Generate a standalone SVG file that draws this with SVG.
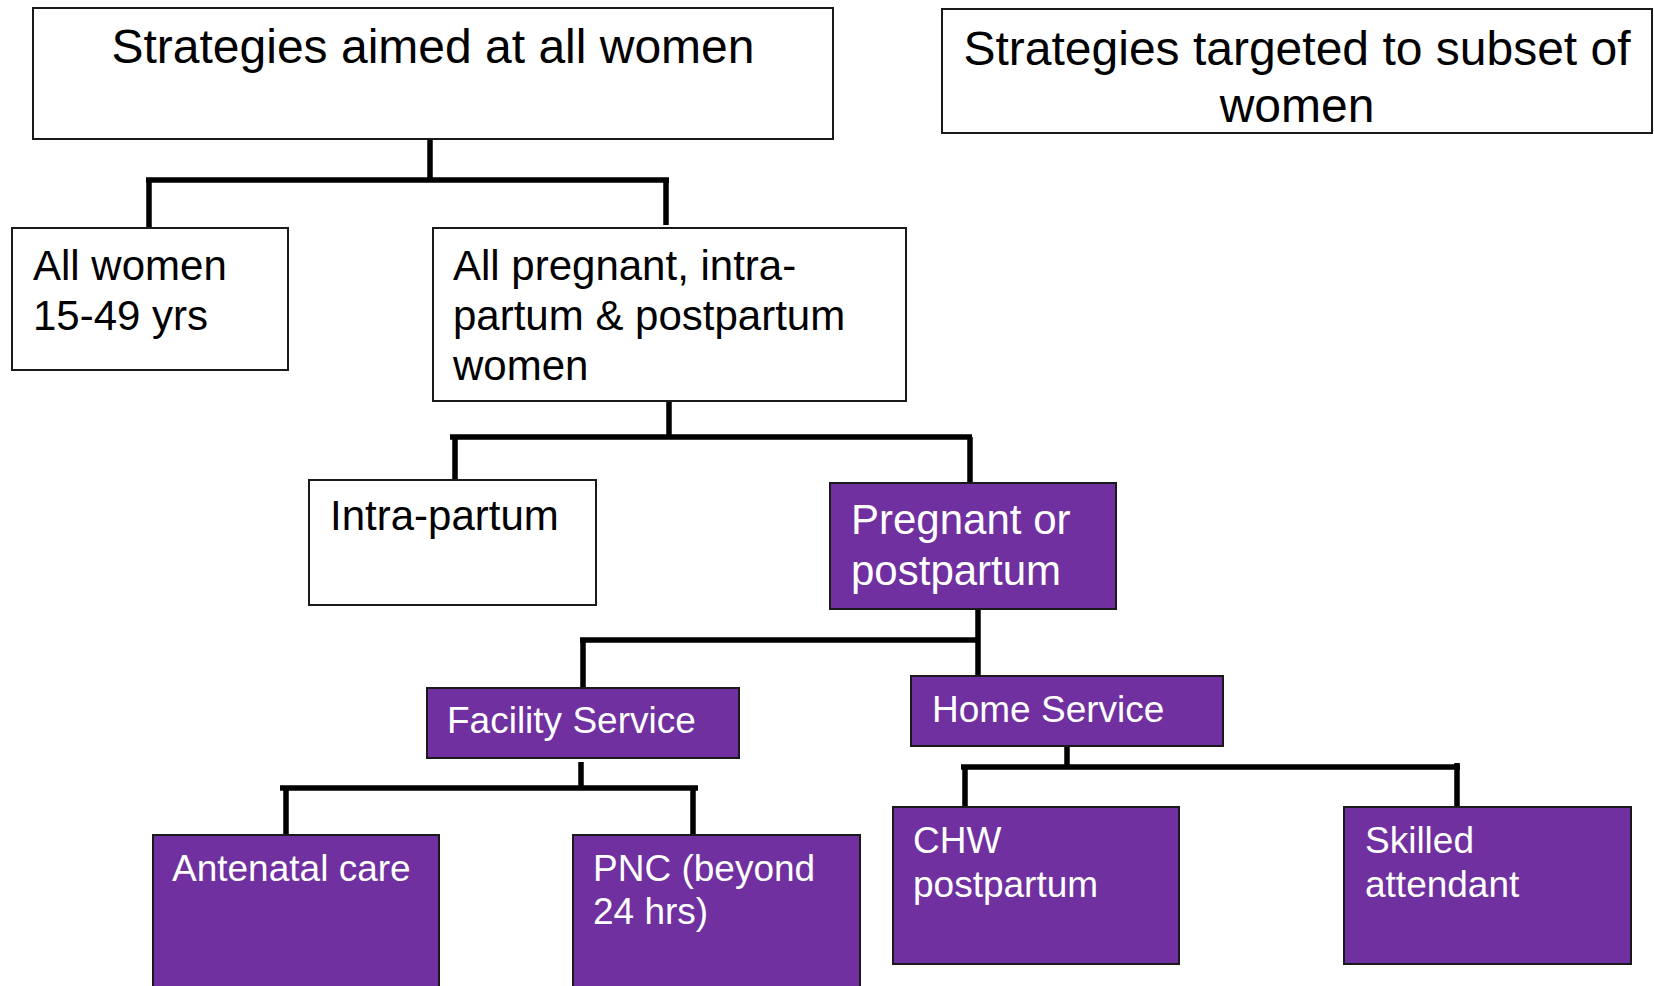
<svg xmlns="http://www.w3.org/2000/svg" width="1654" height="986" viewBox="0 0 1654 986">
  <style>
    .box { fill: #ffffff; stroke: #1a1a1a; stroke-width: 2; }
    .pbox { fill: #7030a0; stroke: #1a1a1a; stroke-width: 2; }
    .conn { fill: none; stroke: #000000; stroke-width: 5.5; stroke-linecap: butt; }
    text { font-family: "Liberation Sans", Arial, sans-serif; }
    .t48 { font-size: 48px; fill: #000000; }
    .t42 { font-size: 42px; fill: #000000; }
    .w42 { font-size: 42px; fill: #ffffff; }
    .w37 { font-size: 37px; fill: #ffffff; }
  </style>
  <rect width="1654" height="986" fill="#ffffff"/>

  <!-- connectors -->
  <g id="connectors">
    <path class="conn" d="M430,139 V180 M146,180 H669 M149,180 V228 M666,180 V225"/>
    <path class="conn" d="M669,401 V437 M450,437 H972 M455,437 V482 M970,437 V482"/>
    <path class="conn" d="M978,609 V676 M580,640 H978 M583,640 V688"/>
    <path class="conn" d="M581,762 V788 M280,788 H698 M286,788 V836 M693,788 V834"/>
    <path class="conn" d="M1067,746 V767 M961,767 H1460 M965,767 V807 M1457,763 V807"/>
  </g>

  <g id="node-all-strategies">
    <rect class="box" x="33" y="8" width="800" height="131"/>
    <text class="t48" x="433" y="63" text-anchor="middle">Strategies aimed at all women</text>
  </g>

  <g id="node-targeted-strategies">
    <rect class="box" x="942" y="9" width="710" height="124" stroke-width="2.5"/>
    <text class="t48" x="1297" y="65" text-anchor="middle">Strategies targeted to subset of</text>
    <text class="t48" x="1297" y="122" text-anchor="middle">women</text>
  </g>

  <g id="node-all-women">
    <rect class="box" x="12" y="228" width="276" height="142"/>
    <text class="t42" x="33" y="280">All women</text>
    <text class="t42" x="33" y="330">15-49 yrs</text>
  </g>

  <g id="node-all-pregnant">
    <rect class="box" x="433" y="228" width="473" height="173"/>
    <text class="t42" x="453" y="280">All pregnant, intra-</text>
    <text class="t42" x="453" y="330">partum &amp; postpartum</text>
    <text class="t42" x="453" y="380">women</text>
  </g>

  <g id="node-intra-partum">
    <rect class="box" x="309" y="480" width="287" height="125"/>
    <text class="t42" x="330" y="530">Intra-partum</text>
  </g>

  <g id="node-pregnant-postpartum">
    <rect class="pbox" x="830" y="483" width="286" height="126"/>
    <text class="w42" x="851" y="534">Pregnant or</text>
    <text class="w42" x="851" y="585">postpartum</text>
  </g>

  <g id="node-facility-service">
    <rect class="pbox" x="427" y="688" width="312" height="70"/>
    <text class="w37" x="447" y="733">Facility Service</text>
  </g>

  <g id="node-home-service">
    <rect class="pbox" x="911" y="676" width="312" height="70"/>
    <text class="w37" x="932" y="722">Home Service</text>
  </g>

  <g id="node-antenatal-care">
    <rect class="pbox" x="153" y="835" width="286" height="170"/>
    <text class="w37" x="172" y="881">Antenatal care</text>
  </g>

  <g id="node-pnc">
    <rect class="pbox" x="573" y="835" width="287" height="170"/>
    <text class="w37" x="593" y="881">PNC (beyond</text>
    <text class="w37" x="593" y="924">24 hrs)</text>
  </g>

  <g id="node-chw-postpartum">
    <rect class="pbox" x="893" y="807" width="286" height="157"/>
    <text class="w37" x="913" y="853">CHW</text>
    <text class="w37" x="913" y="897">postpartum</text>
  </g>

  <g id="node-skilled-attendant">
    <rect class="pbox" x="1344" y="807" width="287" height="157"/>
    <text class="w37" x="1365" y="853">Skilled</text>
    <text class="w37" x="1365" y="897">attendant</text>
  </g>
</svg>
